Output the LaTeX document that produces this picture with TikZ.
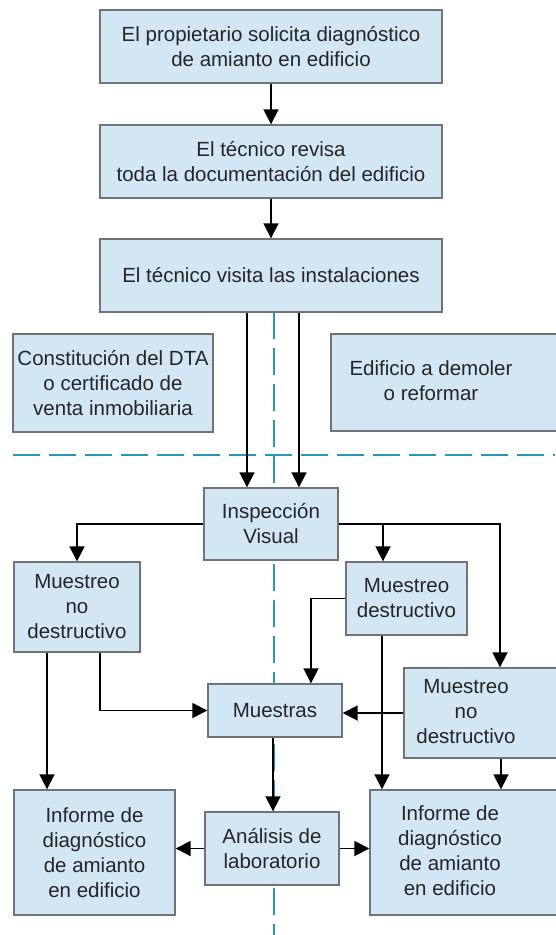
\documentclass[tikz,border=0pt]{standalone}
\usepackage{fontspec}
\setmainfont{Liberation Sans}
\usetikzlibrary{arrows.meta,backgrounds}
\definecolor{celeste}{RGB}{210,231,243}
\definecolor{borde}{RGB}{112,116,120}
\definecolor{guia}{RGB}{38,150,186}
\definecolor{texto}{RGB}{38,38,40}
% texto centrado desplazado a la izquierda
\newcommand{\corrido}[2]{\begin{tabular}{@{}c@{}}#2\end{tabular}\hspace*{#1pt}}

\begin{document}
\begin{tikzpicture}[x=1pt,y=-1pt,
  caja/.style={draw=borde, fill=celeste, line width=1.4pt, align=center, text=texto,
    font=\fontsize{20.5}{25}\selectfont, inner sep=0pt},
  flecha/.style={-{Triangle[width=15pt,length=15pt]}, line width=1.8pt},
  discontinua/.style={guia, line width=1.5pt, dash pattern=on 27pt off 9pt}]
\useasboundingbox (0,0) rectangle (555,935);

% pasos previos
\node[caja, minimum width=342pt, minimum height=73pt] (prop) at (271,46.5)
  {El propietario solicita diagnóstico\\de amianto en edificio};
\node[caja, minimum width=342pt, minimum height=73pt] (revisa) at (271,161.5)
  {El técnico revisa\\toda la documentación del edificio};
\node[caja, minimum width=342pt, minimum height=73pt] (visita) at (271,275.5)
  {El técnico visita las instalaciones};
\node[caja, minimum width=200pt, minimum height=98pt] (dta) at (113,383)
  {Constitución del DTA\\o certificado de\\venta inmobiliaria};
\node[caja, minimum width=229pt, minimum height=97pt] (demoler) at (445.5,382.5)
  {\corrido{29}{Edificio a demoler\\o reformar}};

% inspeccion y muestreo
\node[caja, minimum width=134pt, minimum height=72pt] (insp) at (271,524)
  {Inspección\\Visual};
\node[caja, minimum width=126pt, minimum height=90pt] (mnd1) at (77,607)
  {Muestreo\\no\\destructivo};
\node[caja, minimum width=121pt, minimum height=73pt] (md) at (406.5,598.5)
  {Muestreo\\destructivo};
\node[caja, minimum width=156pt, minimum height=90pt] (mnd2) at (482,713)
  {\corrido{32}{Muestreo\\no\\destructivo}};
\node[caja, minimum width=134pt, minimum height=53pt] (muestras) at (275,710.5)
  {Muestras};

% resultados
\node[caja, minimum width=161pt, minimum height=125pt] (inf1) at (94.5,852.5)
  {Informe de\\diagnóstico\\de amianto\\en edificio};
\node[caja, minimum width=134pt, minimum height=73pt] (anal) at (272,848.5)
  {Análisis de\\laboratorio};
\node[caja, minimum width=190pt, minimum height=125pt] (inf2) at (465,852.5)
  {\corrido{30}{Informe de\\diagnóstico\\de amianto\\en edificio}};

\begin{scope}[on background layer]
\draw[discontinua] (274,312) -- (274,935);
\draw[discontinua] (13,455) -- (555,455);
\end{scope}

\coordinate (rama) at ([xshift=-23.5pt]md.north);
\coordinate (bajad) at ([xshift=-24.5pt]md.south);
\coordinate (bajand) at ([xshift=19pt]mnd2.south);
\coordinate (bajai) at ([xshift=-30pt]mnd1.south);

\draw[flecha] (prop) -- (revisa);
\draw[flecha] (revisa) -- (visita);
\draw[flecha] ([xshift=-24pt]visita.south) -- ([xshift=-24pt]insp.north);
\draw[flecha] ([xshift=28pt]visita.south) -- ([xshift=28pt]insp.north);
\draw[flecha] (insp.west) -| (mnd1.north);
\draw[flecha] (insp.east) -| ([xshift=18pt]mnd2.north);
\draw[flecha] (rama |- insp.east) -- (rama);
\draw[flecha] (md.west) -| ([xshift=36pt]muestras.north);
\draw[flecha] (bajad) -- (bajad |- inf2.north);
\draw[flecha] (mnd2.west) -- (mnd2.west -| muestras.east);
\draw[flecha] (bajand) -- (bajand |- inf2.north);
\draw[flecha] ([xshift=23pt]mnd1.south) |- (muestras.west);
\draw[flecha] (bajai) -- (bajai |- inf1.north);
\draw[flecha] ([xshift=-2pt]muestras.south) -- ([xshift=-2pt]muestras.south |- anal.north);
\draw[flecha] (anal.west) -- (anal.west -| inf1.east);
\draw[flecha] (anal.east) -- (anal.east -| inf2.west);

\end{tikzpicture}
\end{document}
